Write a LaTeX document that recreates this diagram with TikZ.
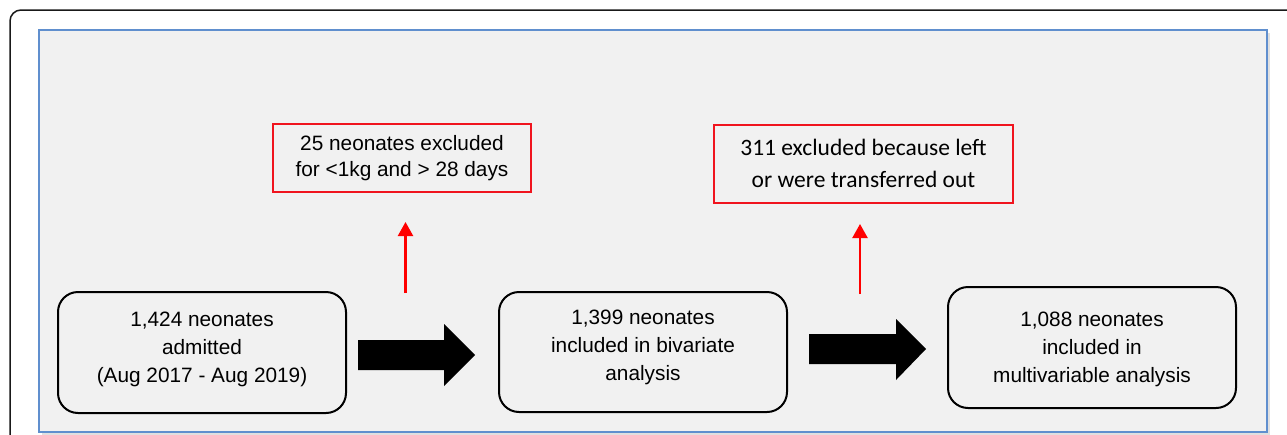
\documentclass[tikz,border=0pt]{standalone}
\usepackage{fontspec}
\setmainfont{Liberation Sans}
\newfontfamily\calib{Carlito}
\usetikzlibrary{arrows.meta}
\definecolor{panelfill}{RGB}{241,241,241}
\definecolor{panelblue}{RGB}{96,143,206}
\definecolor{exred}{RGB}{240,20,30}
\tikzset{
  stagebox/.style={draw=black, line width=2pt, rounded corners=20pt, minimum width=288pt, minimum height=121pt},
  boxtext/.style={font=\fontsize{20.8}{28}\selectfont, align=center, text=black},
  exbox/.style={draw=exred, line width=2pt, align=center, inner sep=0pt},
  redarrow/.style={draw=red, line width=2.2pt, -{Triangle[width=15pt,length=14pt]}},
  blockarrow/.style={fill=black}
}
\begin{document}
\begin{tikzpicture}[x=1pt,y=-1pt]
\useasboundingbox (0,0) rectangle (1287,434);
\fill[white] (0,0) rectangle (1287,434);
% outer frame
\draw[line width=1.5pt, black!90, rounded corners=11pt] (10,440) -- (10,10) -- (1295,10);
% panel shadow and panel
\fill[black!12] (41.5,32.5) rectangle (1270,436);
\draw[panelblue, line width=2pt, fill=panelfill] (38.5,29.5) rectangle (1267,432);
% stage boxes
\node[stagebox, label={[boxtext, yshift=3pt]center:1,424 neonates\\admitted\\(Aug 2017 - Aug 2019)}] (b1) at (202,352.5) {};
\node[stagebox, minimum height=120pt, label={[boxtext, yshift=5pt]center:1,399 neonates\\included in bivariate\\analysis}] (b2) at (643,352) {};
\node[stagebox, label={[boxtext, yshift=-1.5pt]center:1,088 neonates\\included in\\multivariable analysis}] (b3) at (1092,347.5) {};
% exclusion boxes
\node[exbox, minimum width=258pt, minimum height=68pt, font=\fontsize{20.8}{26}\selectfont] (e1) at (402,158) {25 neonates excluded\\for <1kg and > 28 days};
\node[exbox, minimum width=299pt, minimum height=78pt, font=\calib\fontsize{23.5}{32}\selectfont] (e2) at (863.5,164) {\raisebox{2pt}{311 excluded because left}\\\raisebox{2pt}{or were transferred out}};
% red arrows
\coordinate (r1s) at (405.5,293);
\coordinate (r1e) at (405.5,222);
\coordinate (r2s) at (860,294);
\coordinate (r2e) at (860,224);
\draw[redarrow] (r1s) -- (r1e);
\draw[redarrow] (r2s) -- (r2e);
% block arrows
\fill[blockarrow] (358,340) -- (444,340) -- (444,324) -- (475,355) -- (444,386) -- (444,370) -- (358,370) -- cycle;
\fill[blockarrow] (809,334) -- (896,334) -- (896,319) -- (926,349) -- (896,380) -- (896,364) -- (809,364) -- cycle;
\end{tikzpicture}
\end{document}
